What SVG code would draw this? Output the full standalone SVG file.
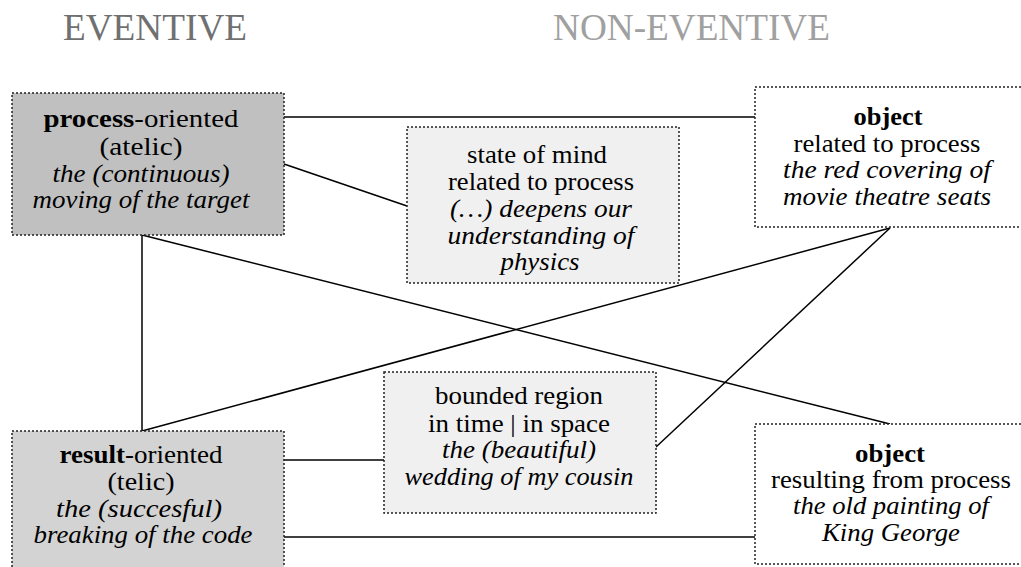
<svg xmlns="http://www.w3.org/2000/svg" width="1021" height="567" viewBox="0 0 1021 567">
<style>
.box{stroke:#222;stroke-width:1.5;stroke-dasharray:2 2}
.t{font-family:"Liberation Serif","Times New Roman",serif;font-size:26px;fill:#000;text-anchor:middle}
.i{font-style:italic}
.b{font-weight:bold}
.h{font-family:"Liberation Serif","Times New Roman",serif;font-size:37px}
.c line{stroke:#000;stroke-width:1.5}
</style>
<rect width="1021" height="567" fill="#fff"/>
<text class="h" x="63" y="40" fill="#707070" textLength="184" lengthAdjust="spacingAndGlyphs">EVENTIVE</text>
<text class="h" x="553" y="40" fill="#a0a0a0" textLength="277" lengthAdjust="spacingAndGlyphs">NON-EVENTIVE</text>
<g id="connectors" class="c">
<line x1="284" y1="117" x2="755" y2="117"/>
<line x1="284" y1="164" x2="407" y2="206"/>
<line x1="142" y1="235" x2="142" y2="431"/>
<line x1="142" y1="235" x2="890" y2="424"/>
<line x1="142" y1="431" x2="890" y2="228"/>
<line x1="890" y1="228" x2="656" y2="447"/>
<line x1="284" y1="460" x2="384" y2="460"/>
<line x1="284" y1="537" x2="755" y2="537"/>
</g>
<g id="process">
<rect class="box" x="12" y="93" width="272" height="142" fill="#c0c0c0"/>
<text class="t" x="141" y="127" textLength="195" lengthAdjust="spacingAndGlyphs"><tspan class="b">process</tspan>-oriented</text>
<text class="t" x="141" y="155" textLength="83" lengthAdjust="spacingAndGlyphs">(atelic)</text>
<text class="t i" x="141" y="182" textLength="177" lengthAdjust="spacingAndGlyphs">the (continuous)</text>
<text class="t i" x="141" y="208" textLength="217" lengthAdjust="spacingAndGlyphs">moving of the target</text>
</g>
<g id="stateofmind">
<rect class="box" x="407" y="127" width="272" height="156" fill="#f0f0f0"/>
<text class="t" x="537" y="163" textLength="140" lengthAdjust="spacingAndGlyphs">state of mind</text>
<text class="t" x="541" y="190" textLength="186" lengthAdjust="spacingAndGlyphs">related to process</text>
<text class="t i" x="541" y="217" textLength="182" lengthAdjust="spacingAndGlyphs">(…) deepens our</text>
<text class="t i" x="541" y="244" textLength="187" lengthAdjust="spacingAndGlyphs">understanding of</text>
<text class="t i" x="540" y="270" textLength="79" lengthAdjust="spacingAndGlyphs">physics</text>
</g>
<g id="objectrelated">
<rect class="box" x="755" y="87" width="280" height="140" fill="#fff"/>
<text class="t b" x="888" y="125" textLength="69" lengthAdjust="spacingAndGlyphs">object</text>
<text class="t" x="887" y="152" textLength="187" lengthAdjust="spacingAndGlyphs">related to process</text>
<text class="t i" x="887" y="178" textLength="208" lengthAdjust="spacingAndGlyphs">the red covering of</text>
<text class="t i" x="887" y="205" textLength="208" lengthAdjust="spacingAndGlyphs">movie theatre seats</text>
</g>
<g id="result">
<rect class="box" x="12" y="431" width="272" height="150" fill="#d3d3d3"/>
<text class="t" x="141" y="463" textLength="163" lengthAdjust="spacingAndGlyphs"><tspan class="b">result</tspan>-oriented</text>
<text class="t" x="141" y="490" textLength="67" lengthAdjust="spacingAndGlyphs">(telic)</text>
<text class="t i" x="139" y="517" textLength="166" lengthAdjust="spacingAndGlyphs">the (succesful)</text>
<text class="t i" x="143" y="543" textLength="219" lengthAdjust="spacingAndGlyphs">breaking of the code</text>
</g>
<g id="bounded">
<rect class="box" x="384" y="372" width="272" height="141" fill="#f0f0f0"/>
<text class="t" x="519" y="404" textLength="168" lengthAdjust="spacingAndGlyphs">bounded region</text>
<text class="t" x="519" y="432" textLength="182" lengthAdjust="spacingAndGlyphs">in time | in space</text>
<text class="t i" x="519" y="458" textLength="154" lengthAdjust="spacingAndGlyphs">the (beautiful)</text>
<text class="t i" x="519" y="485" textLength="229" lengthAdjust="spacingAndGlyphs">wedding of my cousin</text>
</g>
<g id="objectresulting">
<rect class="box" x="755" y="424" width="280" height="140" fill="#fff"/>
<text class="t b" x="890" y="462" textLength="70" lengthAdjust="spacingAndGlyphs">object</text>
<text class="t" x="891" y="488" textLength="240" lengthAdjust="spacingAndGlyphs">resulting from process</text>
<text class="t i" x="891" y="514" textLength="196" lengthAdjust="spacingAndGlyphs">the old painting of</text>
<text class="t i" x="891" y="541" textLength="138" lengthAdjust="spacingAndGlyphs">King George</text>
</g>
</svg>
